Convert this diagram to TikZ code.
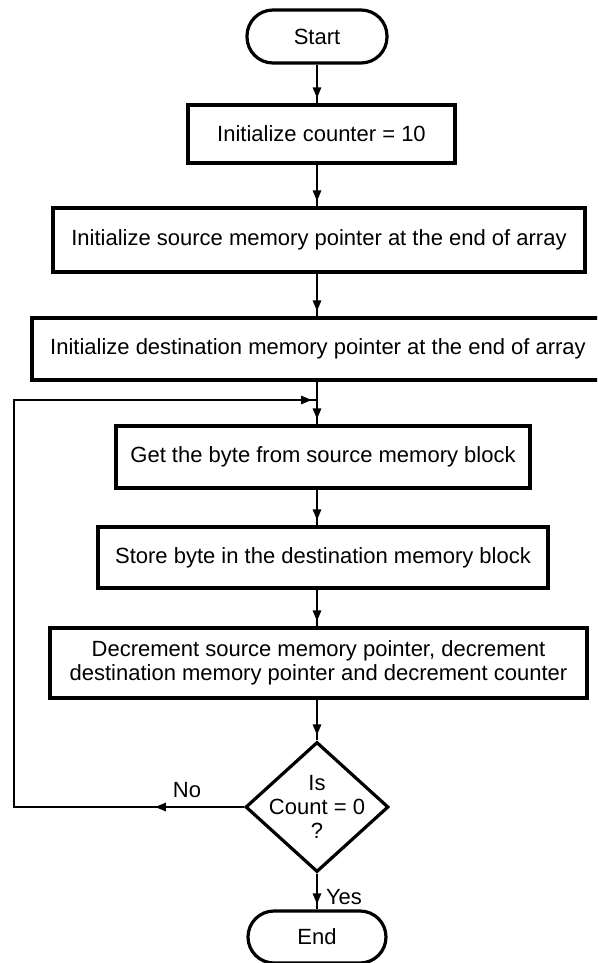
\documentclass[tikz,border=0pt]{standalone}
\usepackage{fontspec}
\setmainfont{Liberation Sans}
\usetikzlibrary{arrows.meta,shapes.geometric,decorations.markings}
\tikzset{
  fnt/.style={font=\fontsize{22}{24}\selectfont},
  procbox/.style={draw, line width=3.2pt, rectangle, inner sep=0pt, align=center, fnt},
  term/.style={procbox, rounded corners=26pt},
  decbox/.style={draw, line width=3.2pt, diamond, inner sep=0pt, minimum width=143pt, minimum height=130pt},
  txt/.style={inner sep=0pt, align=center, fnt},
  tipmark/.style={decorate, decoration={markings, mark=at position #1 with {\arrow{Triangle[length=11pt,width=8pt]}}}},
  flow/.style={line width=2.6pt, postaction={tipmark=-5pt}},
  loopline/.style={line width=2.6pt, line join=miter, postaction={tipmark=89pt}, postaction={tipmark=-5pt}}
}
\begin{document}
\begin{tikzpicture}[x=1pt,y=-1pt]
  \useasboundingbox (0,0) rectangle (597,963);
  \fill[white] (0,0) rectangle (597,963);
  \clip (0,0) rectangle (597,963);

  \node[term, minimum width=140pt, minimum height=53pt] (start) at (317,36.5) {Start};
  \node[procbox, minimum width=267pt, minimum height=58pt] (b1) at (321.5,134) {Initialize counter = 10};
  \node[procbox, minimum width=532pt, minimum height=64pt] (b2) at (319,240) {Initialize source memory pointer at the end of array};
  \node[procbox, minimum width=572pt, minimum height=62pt] (b3) at (318,349) {Initialize destination memory pointer at the end of array};
  \node[procbox, minimum width=414pt, minimum height=62pt] (b4) at (323,457) {Get the byte from source memory block};
  \node[procbox, minimum width=450pt, minimum height=61pt] (b5) at (323,557.5) {Store byte in the destination memory block};
  \node[procbox, minimum width=537pt, minimum height=70pt] (b6) at (318.5,663) {Decrement source memory pointer, decrement\\destination memory pointer and decrement counter};
  \node[decbox] (dec) at (317,807) {};
  \node[txt] (dect) at (dec) {Is\\Count = 0\\?};
  \node[term, minimum width=138pt, minimum height=52pt] (fin) at (317,937) {End};

  \node[txt] (no) at (187,790) {No};
  \node[txt] (yes) at (344,897) {Yes};

  \coordinate (lb) at (14,807);
  \coordinate (lt) at (14,400);
  \coordinate (join) at (317,400);

  \draw[flow] (start) -- (start |- b1.north);
  \draw[flow] (start |- b1.south) -- (start |- b2.north);
  \draw[flow] (start |- b2.south) -- (start |- b3.north);
  \draw[flow] (start |- b3.south) -- (start |- b4.north);
  \draw[flow] (start |- b4.south) -- (start |- b5.north);
  \draw[flow] (start |- b5.south) -- (start |- b6.north);
  \draw[flow] (start |- b6.south) -- (dec);
  \draw[flow] (dec) -- (fin);
  \draw[loopline] (dec.west) -- (lb) -- (lt) -- (join);
\end{tikzpicture}
\end{document}
